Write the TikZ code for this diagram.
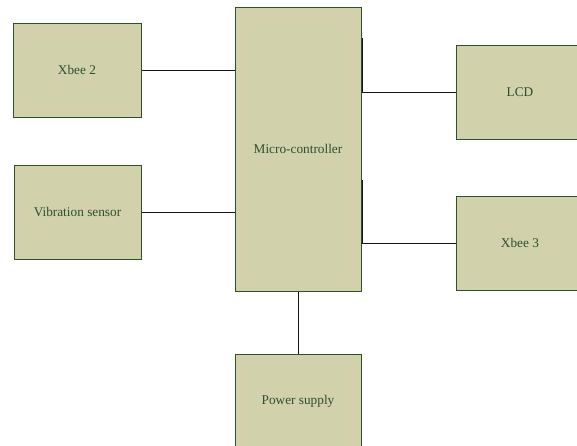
\documentclass[tikz,border=0pt]{standalone}
\usepackage{fontspec}
\setmainfont{Liberation Serif}
\definecolor{boxfill}{RGB}{209,210,171}
\definecolor{boxdraw}{RGB}{45,80,48}
\definecolor{boxtext}{RGB}{46,78,48}
\definecolor{wire}{RGB}{20,20,20}
\tikzset{
  blockbox/.style={draw=boxdraw, fill=boxfill, line width=1pt, text=boxtext,
    inner sep=0pt, font=\fontsize{13.3}{16}\selectfont},
  wireline/.style={draw=wire, line width=1pt}
}
\begin{document}
\begin{tikzpicture}[x=1pt,y=-1pt]
\useasboundingbox (0,0) rectangle (577,445);
\clip (0,0) rectangle (577,445);
\node[blockbox, minimum width=128pt, minimum height=94pt] (xbee2) at (77,70) {Xbee 2};
\node[blockbox, minimum width=127pt, minimum height=94pt] (vib) at (77.5,212) {Vibration sensor};
\node[blockbox, minimum width=126pt, minimum height=284pt] (micro) at (298,149) {Micro-controller};
\node[blockbox, minimum width=128pt, minimum height=94pt] (lcd) at (520,92) {LCD};
\node[blockbox, minimum width=128pt, minimum height=94pt] (xbee3) at (520,243) {Xbee 3};
\node[blockbox, minimum width=126pt, minimum height=94pt] (power) at (298,401) {Power supply};
\coordinate (c1) at (362,38);
\coordinate (c2) at (362,180);
\draw[wireline] (xbee2.east) -- (micro.west |- xbee2.east);
\draw[wireline] (vib.east) -- (micro.west |- vib.east);
\draw[wireline] (c1) |- (lcd.west);
\draw[wireline] (c2) |- (xbee3.west);
\draw[wireline] (micro.south) -- (power.north);
\end{tikzpicture}
\end{document}
